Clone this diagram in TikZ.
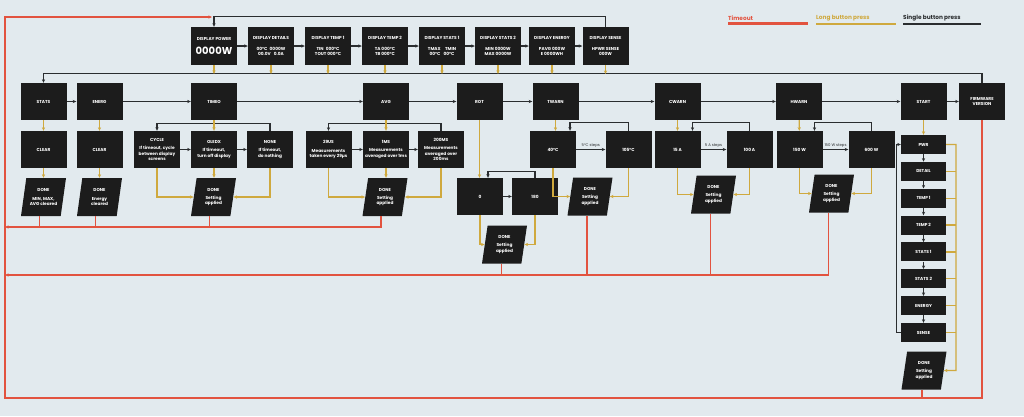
\documentclass[tikz,border=0pt]{standalone}
\usepackage{fontspec}
\setmainfont{Poppins}
\usetikzlibrary{arrows.meta,shapes.geometric,calc}
\definecolor{bgc}{HTML}{E2EAEE}
\definecolor{boxc}{HTML}{1C1C1C}
\definecolor{redc}{HTML}{E2533F}
\definecolor{yelc}{HTML}{CFA93E}
\definecolor{linec}{HTML}{2A2D2F}
\begin{document}
\begin{tikzpicture}[x=1pt,y=-1pt,
  >={Stealth[length=3.6pt,width=3.2pt]},
  box/.style={fill=boxc,text=white,minimum width=46pt,minimum height=37pt,inner sep=1pt,align=center,font=\fontsize{4.3}{5.2}\selectfont\bfseries},
  disp/.style={box,minimum height=38pt},
  sub/.style={box,minimum width=45pt,minimum height=19pt},
  done/.style={box,trapezium,trapezium left angle=74,trapezium right angle=106,trapezium stretches body,minimum width=45pt,minimum height=38pt},
  sgl/.style={draw=linec,line width=1.2pt},
  lng/.style={draw=yelc,line width=1.2pt},
  tmo/.style={draw=redc,line width=1.2pt},
  steplbl/.style={font=\fontsize{3.8}{4}\selectfont,text=linec,inner sep=1.5pt},
  lgd/.style={font=\fontsize{5.8}{6}\selectfont\bfseries,inner sep=0pt,anchor=west}]
\useasboundingbox[fill=bgc] (0,0) rectangle (1024,416);

% legend
\node[lgd,text=redc] (lgtmo) at (728,18) {Timeout};
\node[lgd,text=yelc] (lglng) at (816,18) {Long button press};
\node[lgd,text=linec] (lgsgl) at (903,18) {Single button press};
\draw[redc,line width=2.2pt] ($(lgtmo.south west)+(0,3)$) -- ++(80,0);
\draw[yelc,line width=2.2pt] ($(lglng.south west)+(0,3)$) -- ++(80,0);
\draw[linec,line width=2.2pt] ($(lgsgl.south west)+(0,3)$) -- ++(78,0);

% display screens
\node[disp] (dpwr) at (214,46) {DISPLAY POWER\\[5pt]{\fontsize{10}{10}\selectfont 0000W}};
\node[disp] (ddet) at (271,46) {DISPLAY DETAILS\\[5pt]00°C\enspace 0000W\\00.0V\enspace\ 0.0A};
\node[disp] (dt1) at (328,46) {DISPLAY TEMP 1\\[5pt]TIN\enspace 000°C\\TOUT 000°C};
\node[disp] (dt2) at (385,46) {DISPLAY TEMP 2\\[5pt]TA 000°C\\TB 000°C};
\node[disp] (ds1) at (442,46) {DISPLAY STATS 1\\[5pt]TMAX\quad TMIN\\00°C\enspace\ 00°C};
\node[disp] (ds2) at (498,46) {DISPLAY STATS 2\\[5pt]MIN 0000W\\MAX 0000W};
\node[disp] (den) at (552,46) {DISPLAY ENERGY\\[5pt]PAVG 000W\\E 0000WH};
\node[disp] (dsen) at (605.5,46) {DISPLAY SENSE\\[5pt]HPWR SENSE\\000W};

% settings menu
\node[box] (stats) at (43.5,101.5) {STATS};
\node[box] (energ) at (99.5,101.5) {ENERG};
\node[box] (timeo) at (214,101.5) {TIMEO};
\node[box] (avg) at (386,101.5) {AVG};
\node[box] (rot) at (479.5,101.5) {ROT};
\node[box] (twarn) at (555.5,101.5) {TWARN};
\node[box] (cwarn) at (677.5,101.5) {CWARN};
\node[box] (hwarn) at (799,101.5) {HWARN};
\node[box] (start) at (923.5,101.5) {START};
\node[box] (fw) at (982,101.5) {FIRMWARE\\VERSION};

% options
\node[box] (clrs) at (43.5,149.5) {CLEAR};
\node[box] (clre) at (99.5,149.5) {CLEAR};
\node[box] (cycle) at (157,149.5) {CYCLE\\[3pt]If timeout, cycle\\between display\\screens};
\node[box] (oledx) at (214,149.5) {OLEDX\\[3pt]If timeout,\\turn off display};
\node[box] (none) at (270,149.5) {NONE\\[3pt]If timeout,\\do nothing};
\node[box] (us) at (328.5,149.5) {29US\\[3pt]Measurements\\taken every 29µs};
\node[box] (ms1) at (386,149.5) {1MS\\[3pt]Measurements\\averaged over 1ms};
\node[box] (ms200) at (441,149.5) {200MS\\[3pt]Measurements\\averaged over\\200ms};
\node[box] (r0) at (480,196.5) {0};
\node[box] (r180) at (535,196.5) {180};
\node[box] (c40) at (553,149.5) {40°C};
\node[box] (c105) at (628.5,149.5) {105°C};
\node[box] (a15) at (677.5,149.5) {15 A};
\node[box] (a100) at (749.5,149.5) {100 A};
\node[box] (w150) at (799.5,149.5) {150 W};
\node[box] (w600) at (871.5,149.5) {600 W};

% done
\node[done] (dnstats) at (43.5,197) {DONE\\[3pt]MIN, MAX,\\AVG cleared};
\node[done] (dnenerg) at (99.5,197) {DONE\\[3pt]Energy\\cleared};
\node[done] (dntimeo) at (213.5,197) {DONE\\[3pt]Setting\\applied};
\node[done] (dnavg) at (385,197) {DONE\\[3pt]Setting\\applied};
\node[done] (dnrot) at (504.5,244.5) {DONE\\[3pt]Setting\\applied};
\node[done] (dntwarn) at (590,196.5) {DONE\\[3pt]Setting\\applied};
\node[done] (dncwarn) at (713.5,194.5) {DONE\\[3pt]Setting\\applied};
\node[done] (dnhwarn) at (831.5,193.5) {DONE\\[3pt]Setting\\applied};

% start screen choice
\node[sub] (pwr) at (923.5,144.5) {PWR};
\node[sub] (det) at (923.5,171.4) {DETAIL};
\node[sub] (tp1) at (923.5,198.2) {TEMP 1};
\node[sub] (tp2) at (923.5,225) {TEMP 2};
\node[sub] (st1) at (923.5,251.9) {STATS 1};
\node[sub] (st2) at (923.5,278.7) {STATS 2};
\node[sub] (eng) at (923.5,305.6) {ENERGY};
\node[sub] (sen) at (923.5,332.5) {SENSE};
\node[done] (dnstart) at (924,370.5) {DONE\\[3pt]Setting\\applied};

\coordinate (bus) at (0,74);
\coordinate (redtop) at (5,17);
\coordinate (redbot) at (5,398);
\coordinate (joint) at (212,17);
\coordinate (redone) at (5,227);
\coordinate (redtwo) at (5,275);
\coordinate (ybus) at (956,370.5);

% single press
\foreach \a/\b in {dpwr/ddet,ddet/dt1,dt1/dt2,dt2/ds1,ds1/ds2,ds2/den,den/dsen}
  \draw[sgl,->] (\a) -- (\b);
\draw[sgl,->] (dsen.north) -- ++(0,-10) -| (dpwr.north);
\foreach \a/\b in {stats/energ,energ/timeo,timeo/avg,avg/rot,rot/twarn,twarn/cwarn,cwarn/hwarn,hwarn/start,start/fw}
  \draw[sgl,->] (\a) -- (\b);
\draw[sgl,->] (fw.north) -- ++(0,-9) -| (stats.north);
\draw[sgl,->] (cycle) -- (oledx);
\draw[sgl,->] (oledx) -- (none);
\draw[sgl,->] (none.north) -- ++(0,-7) -| (cycle.north);
\draw[sgl,->] (us) -- (ms1);
\draw[sgl,->] (ms1) -- (ms200);
\draw[sgl,->] (ms200.north) -- ++(0,-7) -| (us.north);
\draw[sgl,->] (r0) -- (r180);
\draw[sgl,->] (r180.north) -- ++(0,-6) -| ([xshift=8pt]r0.north);
\draw[sgl,->] (c40) -- node[steplbl,above]{5°C steps} (c105);
\draw[sgl,->] (c105.north) -- ++(0,-8) -| ([xshift=17pt]c40.north);
\draw[sgl,->] (a15) -- node[steplbl,above]{5 A steps} (a100);
\draw[sgl,->] (a100.north) -- ++(0,-8) -| ([xshift=15pt]a15.north);
\draw[sgl,->] (w150) -- node[steplbl,above]{150 W steps} (w600);
\draw[sgl,->] (w600.north) -- ++(0,-8) -| ([xshift=15pt]w150.north);
\foreach \a/\b in {pwr/det,det/tp1,tp1/tp2,tp2/st1,st1/st2,st2/eng,eng/sen}
  \draw[sgl,->] (\a) -- (\b);
\draw[sgl,->] (sen.west) -- ++(-4,0) |- (pwr.west);

% long press
\foreach \n in {dpwr,ddet,dt1,dt2,ds1,ds2,den,dsen}
  \draw[lng,->] (\n.south) -- (\n.south |- bus);
\draw[lng,->] (stats) -- (clrs);
\draw[lng,->] (clrs) -- (clrs.south |- dnstats.north);
\draw[lng,->] (energ) -- (clre);
\draw[lng,->] (clre) -- (clre.south |- dnenerg.north);
\draw[lng,->] (timeo) -- (oledx);
\draw[lng,->] (oledx) -- (oledx.south |- dntimeo.north);
\draw[lng,->] (cycle.south) |- (dntimeo.west);
\draw[lng,->] (none.south) |- (dntimeo.east);
\draw[lng,->] (avg) -- (ms1);
\draw[lng,->] (ms1) -- (ms1.south |- dnavg.north);
\draw[lng,->] (us.south) |- (dnavg.west);
\draw[lng,->] (ms200.south) |- (dnavg.east);
\draw[lng,->] (rot.south) -- (rot.south |- r0.north);
\draw[lng,->] (r0.south) |- (dnrot.west);
\draw[lng,->] (r180.south) |- (dnrot.east);
\draw[lng,->] (twarn.south) -- (twarn.south |- c40.north);
\draw[lng,->] (c40.south) |- (dntwarn.west);
\draw[lng,->] (c105.south) |- (dntwarn.east);
\draw[lng,->] (cwarn) -- (a15);
\draw[lng,->] (a15.south) |- (dncwarn.west);
\draw[lng,->] (a100.south) |- (dncwarn.east);
\draw[lng,->] (hwarn) -- (w150);
\draw[lng,->] (w150.south) |- (dnhwarn.west);
\draw[lng,->] (w600.south) |- (dnhwarn.east);
\draw[lng,->] (start) -- (pwr);
\draw[lng,->] (pwr.east) -| (ybus) -- (dnstart.east);
\foreach \n in {det,tp1,tp2,st1,st2,eng,sen}
  \draw[lng] (\n.east) -- (\n.east -| ybus);

% timeout
\draw[tmo,->] (fw.south) |- (redbot) -- (redtop) -- (joint);
\draw[tmo] ([xshift=-2pt]dnstart.south) -- ([xshift=-2pt]dnstart.south |- redbot);
\draw[tmo,->] ([xshift=-4pt]dnavg.south) |- (redone);
\foreach \n in {dnstats,dnenerg,dntimeo}
  \draw[tmo] ([xshift=-4pt]\n.south) -- ([xshift=-4pt]\n.south |- redone);
\draw[tmo,->] ([xshift=-3pt]dnhwarn.south) |- (redtwo);
\foreach \n in {dnrot,dntwarn,dncwarn}
  \draw[tmo] ([xshift=-3pt]\n.south) -- ([xshift=-3pt]\n.south |- redtwo);
\end{tikzpicture}
\end{document}
